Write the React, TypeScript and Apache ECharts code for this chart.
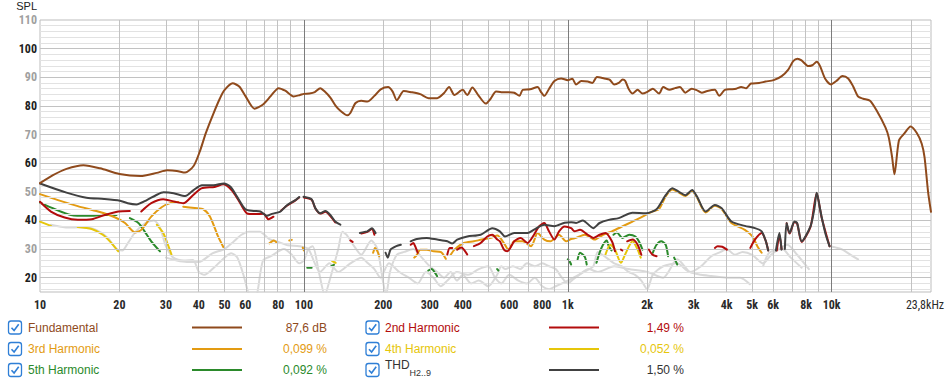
import React, { useEffect, useRef } from "react";
import * as echarts from "echarts";

type P = [number, number] | null;

// ---- data (Hz, dB); null = gap in the curve ----
const fundamental: P[] = [
  [10, 53], [11.2, 55.8], [12.6, 58], [14.6, 59.3], [16.9, 58.2], [20, 56.2], [24, 55.5], [27.7, 56.6],
  [30.3, 57.5], [33, 57.3], [35.5, 56.7], [38.2, 59], [40.3, 64], [42.5, 70.5], [45.5, 77.5], [48, 82.5],
  [50, 85.5], [53.7, 87.9], [57, 86.7], [60, 83.5], [65, 79], [70, 80.5], [75, 83.5], [80.2, 86.2],
  [85, 85.3], [91.4, 83.3], [96.7, 83.8], [100, 84.2], [105, 84.3], [110, 84.8], [115.4, 86.2], [120, 85],
  [126, 82.9], [132, 80], [137.5, 78.3], [146, 76.7], [150, 77.5], [157, 81], [165, 81.8], [174, 81.5],
  [185, 83.5], [195.5, 85.8], [208.5, 86.6], [217, 85], [225, 82], [239, 85.2], [255, 84.8], [276, 84.1],
  [297, 82.7], [320, 82.7], [340, 84.5], [355, 86.6], [372, 83.8], [400, 85.6], [416, 83.8], [435, 86.4],
  [460, 83.5], [489, 80.8], [510, 82.5], [535, 85], [560, 84.8], [600, 84.8], [627, 84.6], [656, 83.5],
  [675, 85.6], [720, 85.8], [769, 86.6], [790, 85], [815, 83.5], [850, 86], [890, 88.7], [944, 89.6],
  [1000, 89], [1040, 89.5], [1075, 87.5], [1125, 88.7], [1190, 88.5], [1240, 88], [1290, 90.1], [1375, 89.6],
  [1440, 89.2], [1500, 87.5], [1560, 88], [1615, 89.2], [1650, 88.8], [1700, 86], [1760, 84.3], [1840, 85.6],
  [1920, 84.3], [2010, 85], [2100, 86], [2220, 84.3], [2300, 86.6], [2430, 85.6], [2550, 86.2], [2660, 86.6],
  [2790, 84.6], [2950, 86], [3080, 85.5], [3220, 84.6], [3380, 85.2], [3610, 85.6], [3750, 83.5], [3940, 85.6],
  [4150, 85.8], [4350, 86], [4540, 86.6], [4740, 86.2], [4950, 87.8], [5310, 88], [5620, 88.5], [6030, 89],
  [6470, 90.4], [6850, 92.7], [7150, 95.6], [7420, 96.5], [7690, 95.9], [8160, 93.9], [8450, 94.2], [8780, 95.4],
  [9040, 93.9], [9440, 89.6], [9950, 87.5], [10420, 88.7], [10990, 90.4], [11550, 89.6], [12070, 86.8],
  [12610, 83.2], [13170, 82.5], [13980, 81.8], [14830, 78.3], [15990, 72.5], [16460, 69], [16950, 62.1],
  [17300, 56.1], [17990, 67.9], [18800, 70.2], [19920, 72.8], [21000, 70.6], [21950, 66.8], [22500, 62],
  [23200, 50], [23800, 43],
];

const thd: P[] = [
  [10, 52.9], [12.6, 49.7], [15, 47.9], [17.5, 47.5], [20.1, 46.9], [21.5, 46], [23.2, 45.6], [25.4, 47.1],
  [27.5, 48.8], [29.4, 49.8], [32.1, 49.5], [35.5, 48.5], [38.2, 50.6], [41.1, 52.3], [45.5, 52.3], [49.7, 52.9],
  [52.8, 51.7], [55.8, 48.3], [60, 43.9], [64.5, 43.3], [68.4, 43.1], [72.4, 41.6], [75.7, 42.3], [81.4, 43.1],
  [86.5, 45.4], [92.9, 47.1], [96, 48.2], null, [99.7, 48.3], [107, 47.4], [110.5, 44.3], [115.4, 42.5],
  [120.7, 43.3], [126, 41.9], [131.5, 39.6], [137.5, 38.5], null, [163, 35.6], [170, 36], [174, 36.2],
  [181, 37.3], [187, 35.6], null, [204, 28.7], [208, 27], [213, 29.8], [224, 31], [233, 31.5], null,
  [254, 32.7], [268, 33.5], [292, 33.9], [320, 33.3], [349.6, 32.7], [365, 31.9], [381, 33.3], [416, 34.4],
  [467.5, 35], [517.6, 37.3], [553, 36.2], [578, 34.4], [627, 35.6], [704, 35.6], [745, 36.8], [815, 38.5],
  [890, 38], [973, 39.2], [1030, 39.4], [1075, 39.1], [1140, 40], [1250, 37.3], [1320, 39.1], [1430, 40.2],
  [1560, 40.8], [1760, 42.7], [1980, 42.5], [2170, 43.9], [2350, 48.8], [2490, 51.2], [2640, 50], [2790, 48.8],
  [2960, 50.6], [3090, 48.3], [3330, 43.1], [3610, 45.4], [3830, 44.3], [4170, 39.6], [4690, 38.1], [5120, 37.3],
  [5430, 36.2], [5620, 33], [5750, 29.5], null, [6150, 29.5], [6340, 35.6], [6460, 29.8], null, [6650, 30],
  [6750, 39.1], [6930, 35.6], [7230, 39.6], [7400, 39.1], [7700, 32.7], [8320, 38], [8600, 44], [8780, 49.7],
  [9000, 45], [9160, 41.3], [9500, 35], [9820, 31],
];

const harmonic2: P[] = [
  [10, 46.5], [11, 43.1], [12.4, 41], [13.9, 40.2], [15.7, 40.4], [17.6, 41.9], [19.8, 43.1], [21.9, 43.3], null,
  [24.2, 43.1], [26.4, 46], [29.3, 47.4], [32.5, 46.5], [34.9, 46], [38.1, 48.9], [40.9, 51.2], [45.9, 51.7],
  [49.5, 52.6], [53.2, 50.6], [56.5, 47.1], [60.8, 42.5], [65.4, 42.2], [70.3, 42.3], [73.4, 40.4], [76.7, 41.3], null,
  [82, 43.5], [86.5, 45.2], [92.9, 47], [96, 48], null, [100, 48], [107, 47.2], [110.5, 44.2], [115.4, 42.4],
  [120.7, 43], [126, 41.5], [131.5, 39.3], null, [150, 33], [153, 32.5], null, [165, 35.4], [174, 36], [181, 37],
  [185, 35], null, [254, 31.5], [260, 32.1], [264, 31], [270, 28.7], null, [349.6, 28.1], [357, 30.4], [365, 30.4], null,
  [381, 29.8], [395, 30.5], [404, 29.8], [416, 28.1], null, [441, 31], [467.5, 32.1], [495.6, 34.4], [517.6, 35],
  [541, 33.3], [553, 32.7], [573, 29.8], [590, 29.2], [627, 32.7], [663, 33.9], [704, 32.1], [745, 35], [778, 37.9],
  [815, 39.1], [849, 36.2], [890, 33.3], [927, 36.2], [973, 37.9], [1030, 37.3], [1060, 36.2], [1113, 36.7],
  [1190, 35], [1250, 33.9], [1320, 35], [1390, 35.6], [1470, 32.7], [1510, 29.2], null, [1590, 29.8], [1610, 29.5], null,
  [1680, 32.7], [1760, 33.3], [1840, 31.5], [1900, 28], null, [2030, 29.8], [2090, 28.1], [2170, 27.5], null,
  [3610, 30.4], [3700, 31], [3850, 30.8], [4010, 29.8], null, [4920, 30.4], [5120, 33.3], [5430, 35.6], [5620, 33],
  [5750, 29.5], null, [6200, 29.5], [6340, 35], [6460, 30], null, [6750, 39], [6930, 35.4], [7230, 39.4], [7400, 39],
  [7700, 32.5], [8320, 37.8], [8780, 49.5], [9160, 41.1], [9820, 31],
];

const harmonic3: P[] = [
  [10, 49.2], [11.7, 47.1], [13.9, 45], [16.6, 43.1], [19.2, 41.1], [21, 39.1], [22.9, 35.8], [24.2, 36.7],
  [26.4, 41.3], [28.9, 44.6], [31.5, 46.2], [33.4, 46.4], null, [34.9, 44.8], [38.6, 44.3], [41.6, 43.9],
  [44.1, 41.3], [47.3, 34.4], [49.5, 30.7], null, [74, 32], [77, 33], [79, 32.2], null, [88, 33], [90, 33.2], null,
  [99, 30.5], [100, 29.5], null, [183, 28.7], [186, 30.4], [190, 29.2], [193, 27.5], null, [262, 27], [268, 28],
  [276, 29.8], [292, 29.8], [310, 29.2], [331, 28.9], [345, 26.6], null, [360, 28], [372, 29.8], [404, 32.1],
  [441, 32.7], [472, 33.3], [511, 33.9], [541, 34.7], [573, 32.1], [596, 29.8], [627, 32.7], [675, 32.7], [726, 31],
  [769, 35.6], [815, 33.3], [860, 32.7], [927, 35], [985, 32.7], [1030, 33.5], [1075, 33.9], [1160, 35], [1265, 33.3],
  [1360, 35], [1470, 36.2], [1610, 37.9], [1760, 39.6], [1920, 41.3], [2090, 43.1], [2220, 44], [2350, 48.4],
  [2490, 50.8], [2640, 49.7], [2790, 48.5], [2960, 50.3], [3090, 48], [3330, 42.8], [3610, 45.1], [3830, 44],
  [4170, 39.1], [4690, 36.7], [5010, 34.4], [5230, 31], [5430, 28.7],
];

const harmonic4: P[] = [
  [10, 39.6], [11, 38.1], null, [13.9, 37.7], [15.7, 37], [17.3, 35], [18.4, 32.7], [19.8, 29.2], null,
  [27.7, 38.5], [29.3, 35.6], [30.2, 32.7], [31.5, 28.1], null, [128, 25.8], [132, 25.2], null,
  [1390, 28.1], [1450, 31.5], [1510, 29.8], [1590, 25.2], [1650, 28.1], [1760, 32.7], [1840, 29.8], [1890, 27],
];

const harmonic5: P[] = [
  [10, 46.2], [11.4, 43.9], [13.1, 41.9], [15.2, 41.6], [17.6, 41.9], [19.5, 41.9], null, [21.9, 40.8],
  [23.6, 39.1], [24.9, 36.2], [26.4, 32.7], [28.5, 29.2], null, [103, 23.5], [107, 23.5], null, [127, 24],
  [130, 24.5], null, [296, 22.5], [305, 23], [315, 21.5], [320, 20.5], null, [540, 23], [546, 22.5], null,
  [1000, 26.4], [1015, 25.8], [1030, 24.6], null, [1090, 26.4], [1113, 28.7], [1160, 27.3], [1180, 24.6], null,
  [1285, 25.2], [1320, 28.7], [1360, 31.5], [1405, 33], [1430, 31], [1465, 29.5], null, [1490, 35], [1535, 35.8],
  [1610, 33.9], [1710, 35], [1805, 34.4], [1860, 32.7], [1920, 29.8], null, [2100, 28.7], [2170, 31.5], [2260, 32.7],
  [2350, 31.5], [2400, 27.5], null, [2530, 27], [2600, 24.6],
];

const noiseA: P[] = [
  [11, 38.5], [12, 37.8], [13, 37.5], [14, 37.6], [16, 37], [18, 34], [19.5, 30], [20.5, 29.5], [21.5, 32],
  [23, 36], [25, 39], [27, 40], [28.5, 37.5], [30, 31], [32, 27], [35, 26], [38, 26.2], [40, 22], [42, 21],
  [45, 23], [50, 27], [53, 28.5], [56, 27], [59, 21], [61, 16], [63, 12], [65, 11], [67, 16], [70, 26], [75, 27.5],
  [84, 30], [90, 28], [96, 25], [100, 26], [104, 30], [108, 31], [114, 22], [120, 14], [126, 20], [135, 30],
  [140, 36], [145, 35], [155, 31], [165, 28], [180, 33], [190, 30], [200, 18], [205, 14], [212, 22], [225, 28],
  [240, 29], [260, 30], [280, 27], [300, 24], [320, 22], [340, 20], [360, 22], [380, 19], [400, 21], [430, 18],
  [460, 19], [500, 17], [540, 21], [560, 24], [580, 23], [620, 24], [660, 23], [700, 25], [750, 24], [800, 25],
  [850, 24], [900, 23], [950, 20], [1000, 18], [1050, 19.5], [1150, 22], [1250, 24], [1300, 29], [1400, 27],
  [1500, 25], [1600, 24], [1700, 22], [1800, 21], [1900, 19], [2000, 16], [2100, 21], [2300, 24], [2600, 25],
  [2900, 22], [3200, 24], [3500, 27.5], [3800, 29], [4000, 30], [4300, 28], [4600, 29], [5000, 28], [5500, 25],
  [5900, 28], [6300, 30], [6800, 31.5], [7400, 28], [8200, 23],
];

const noiseB: P[] = [
  [30, 27], [33, 26], [36, 25.5], [40, 25.5], [45, 28.5], [50, 30], [54, 32.5], [58, 35], [62, 36], [68, 36],
  [74, 33.5], [80, 32.5], [87, 31.3], [96, 31], [104, 30], [110, 25], [115, 22], [125, 25], [135, 22], [150, 25],
  [165, 27], [175, 25], [185, 23], [195, 20], [210, 25], [230, 22], [250, 20], [270, 18], [290, 22], [310, 20],
  [330, 17], [350, 19], [380, 22], [420, 21], [460, 23], [500, 24], [530, 20], [560, 18], [600, 21], [650, 19],
  [700, 18], [750, 20], [800, 17], [850, 16], [900, 17], [1000, 19], [1100, 21], [1200, 23], [1300, 22],
  [1500, 24], [1700, 23], [2000, 22], [2300, 20], [2600, 26.4], [2900, 22], [3200, 21], [3500, 20.6], [4000, 20],
  [4500, 20], [4900, 17.7], null, [5500, 24], [5800, 28.7], [6500, 30], [7000, 27], [7700, 23.5], null,
  [9820, 31], [10400, 30.5], [11000, 29.8], [11800, 28], [12600, 26.4],
];

// ---- axes ----
const xTickHz = [10, 20, 30, 40, 50, 60, 80, 100, 200, 300, 400, 600, 800, 1000, 2000, 3000, 4000, 5000, 6000, 8000, 10000, 23800];
const xTickText = ["10", "20", "30", "40", "50", "60", "80", "100", "200", "300", "400", "600", "800", "1k", "2k", "3k", "4k", "5k", "6k", "8k", "10k", "23,8kHz"];
const xMinorGridHz = [20, 30, 40, 50, 60, 70, 80, 90, 200, 300, 400, 500, 600, 700, 800, 900, 2000, 3000, 4000, 5000, 6000, 7000, 8000, 9000, 20000];
const xMajorGridHz = [100, 1000, 10000];
const yTicks = [20, 30, 40, 50, 60, 70, 80, 90, 100, 110];
const yMinorGrid = [16, 18, 22, 24, 26, 28, 32, 34, 36, 38, 42, 44, 46, 48, 52, 54, 56, 58, 62, 64, 66, 68, 72, 74, 76, 78, 82, 84, 86, 88, 92, 94, 96, 98, 102, 104, 106, 108];
const yMajorGrid = [20, 30, 40, 50, 60, 70, 80, 90, 100];
const X_MIN_HZ = 10;
const X_MAX_HZ = 23800;
const Y_MIN = 15;
const Y_MAX = 110;

// ---- legend ----
const legendNames = ["Fundamental", "2nd Harmonic", "3rd Harmonic", "4th Harmonic", "5th Harmonic", "THD"];
const legendValues = ["87,6 dB", "1,49 %", "0,099 %", "0,052 %", "0,092 %", "1,50 %"];
const seriesColors = ["#8f4a1c", "#b30c0c", "#e39b12", "#e6c60a", "#2b8a2b", "#414141"];
const legendTextColors = ["#8f4a1c", "#b30c0c", "#e39b12", "#e6c60a", "#2b8a2b", "#333333"];
const noiseColor = "#d9d9d9";

const lg = Math.log10;

// split a curve at its gaps; each piece becomes its own smooth line
function segments(arr: P[]): [number, number][][] {
  const out: [number, number][][] = [];
  let cur: [number, number][] = [];
  for (const p of arr) {
    if (p === null) {
      if (cur.length) out.push(cur);
      cur = [];
    } else cur.push([lg(p[0]), p[1]]);
  }
  if (cur.length) out.push(cur);
  return out;
}

function curveSeries(name: string, arr: P[], color: string, z: number, width = 2) {
  return segments(arr).map((seg) => ({
    name,
    type: "line",
    data: seg,
    showSymbol: false,
    symbol: "none",
    smooth: seg.length > 2 ? 0.25 : false,
    z,
    silent: true,
    lineStyle: { color, width, type: "solid", cap: "round", join: "round" },
  }));
}

function legendGraphic() {
  const els: any[] = [];
  const rowsY = [327.5, 349, 370];
  const cols = [
    { cb: 8.5, text: 28, l1: 192, l2: 242, v: 327 },
    { cb: 366, text: 385, l1: 549, l2: 599, v: 684 },
  ];
  const font = "12px 'Liberation Sans', Arial, sans-serif";
  for (let i = 0; i < legendNames.length; i++) {
    const col = cols[i % 2];
    const y = rowsY[Math.floor(i / 2)];
    els.push({
      type: "rect",
      shape: { x: col.cb, y: y - 6.5, width: 13, height: 13, r: 2.5 },
      style: { fill: "#ffffff", stroke: "#2f7fd6", lineWidth: 1.3 },
    });
    els.push({
      type: "polyline",
      shape: { points: [[col.cb + 3, y + 0.2], [col.cb + 5.6, y + 3], [col.cb + 10.2, y - 3.3]] },
      style: { stroke: "#2f7fd6", lineWidth: 1.6, fill: null },
    });
    if (legendNames[i] === "THD") {
      els.push({
        type: "text",
        x: col.text,
        y: y - 5,
        style: { text: "THD", fill: legendTextColors[i], font, verticalAlign: "middle" },
      });
      els.push({
        type: "text",
        x: col.text + 24.5,
        y: y + 2.5,
        style: { text: "H2..9", fill: legendTextColors[i], font: "9px 'Liberation Sans', Arial, sans-serif", verticalAlign: "middle" },
      });
    } else {
      els.push({
        type: "text",
        x: col.text,
        y,
        style: { text: legendNames[i], fill: legendTextColors[i], font, verticalAlign: "middle" },
      });
    }
    els.push({
      type: "line",
      shape: { x1: col.l1, y1: y, x2: col.l2, y2: y },
      style: { stroke: seriesColors[i], lineWidth: 2 },
    });
    els.push({
      type: "text",
      x: col.v,
      y,
      style: { text: legendValues[i], fill: legendTextColors[i], font, align: "right", verticalAlign: "middle" },
    });
  }
  return els;
}

export default function App() {
  const ref = useRef<HTMLDivElement>(null);
  useEffect(() => {
    if (!ref.current) return;
    const chart = echarts.init(ref.current, undefined, { renderer: "svg" });
    const axisFont = "'Liberation Sans Narrow', 'Roboto Condensed', Roboto, sans-serif";
    const gridLines = {
      type: "line",
      data: [[lg(X_MIN_HZ), "-"]],
      silent: true,
      z: 1,
      markLine: {
        silent: true,
        symbol: ["none", "none"],
        animation: false,
        label: { show: false },
        emphasis: { disabled: true },
        data: [
          ...yMinorGrid.map((v) => ({ yAxis: v, lineStyle: { color: "#e2e2e2", width: 1, type: "solid" } })),
          ...yMajorGrid.map((v) => ({ yAxis: v, lineStyle: { color: "#c2c2c2", width: 1, type: "solid" } })),
          ...xMinorGridHz.map((v) => ({ xAxis: lg(v), lineStyle: { color: "#c2c2c2", width: 1, type: "solid" } })),
          ...xMajorGridHz.map((v) => ({ xAxis: lg(v), lineStyle: { color: "#7c7c7c", width: 1, type: "solid" } })),
        ],
      },
    };
    chart.setOption({
      animation: false,
      backgroundColor: "#ffffff",
      grid: { left: 40, right: 19, top: 18, bottom: 93, show: true, borderColor: "#bdbdbd", borderWidth: 1, backgroundColor: "transparent" },
      xAxis: {
        type: "value",
        min: lg(X_MIN_HZ),
        max: lg(X_MAX_HZ),
        axisLine: { show: false },
        axisTick: { show: false },
        splitLine: { show: false },
        axisLabel: {
          customValues: xTickHz.map((v) => lg(v)),
          margin: 7,
          fontFamily: axisFont,
          fontWeight: "bold",
          fontSize: 12,
          color: "#2a2a2a",
          formatter: (val: number) => {
            const i = xTickHz.findIndex((h) => Math.abs(lg(h) - val) < 1e-6);
            if (i < 0) return "";
            if (i === xTickHz.length - 1) return "{e|" + xTickText[i] + "}";
            return xTickText[i];
          },
          rich: {
            e: { fontFamily: axisFont, fontWeight: "normal", fontSize: 12, color: "#2a2a2a", padding: [0, 12, 0, 0] },
          },
        },
      },
      yAxis: {
        type: "value",
        min: Y_MIN,
        max: Y_MAX,
        name: "SPL",
        nameLocation: "end",
        nameGap: 9,
        nameTextStyle: { align: "right", padding: [0, 3, 0, 0], color: "#222", fontFamily: "'Liberation Sans', Arial, sans-serif", fontSize: 11 },
        axisLine: { show: false },
        axisTick: { show: false },
        splitLine: { show: false },
        axisLabel: {
          customValues: yTicks,
          margin: 3,
          formatter: (v: number) => (v % 20 === 0 ? "{b|" + v + "}" : "{g|" + v + "}"),
          rich: {
            b: { fontFamily: axisFont, fontWeight: "bold", fontSize: 12, color: "#1e1e1e" },
            g: { fontFamily: axisFont, fontWeight: "bold", fontSize: 12, color: "#a0a0a0" },
          },
        },
      },
      series: [
        gridLines,
        ...curveSeries("noiseA", noiseA, noiseColor, 2),
        ...curveSeries("noiseB", noiseB, noiseColor, 2),
        ...curveSeries("5th Harmonic", harmonic5, seriesColors[4], 3),
        ...curveSeries("4th Harmonic", harmonic4, seriesColors[3], 3),
        ...curveSeries("3rd Harmonic", harmonic3, seriesColors[2], 4),
        ...curveSeries("2nd Harmonic", harmonic2, seriesColors[1], 5),
        ...curveSeries("THD", thd, seriesColors[5], 6),
        ...curveSeries("Fundamental", fundamental, seriesColors[0], 7),
      ],
      graphic: { elements: legendGraphic() },
    });
    return () => chart.dispose();
  }, []);
  return <div ref={ref} style={{ position: "fixed", left: 0, top: 0, width: 950, height: 385, background: "#fff" }} />;
}
